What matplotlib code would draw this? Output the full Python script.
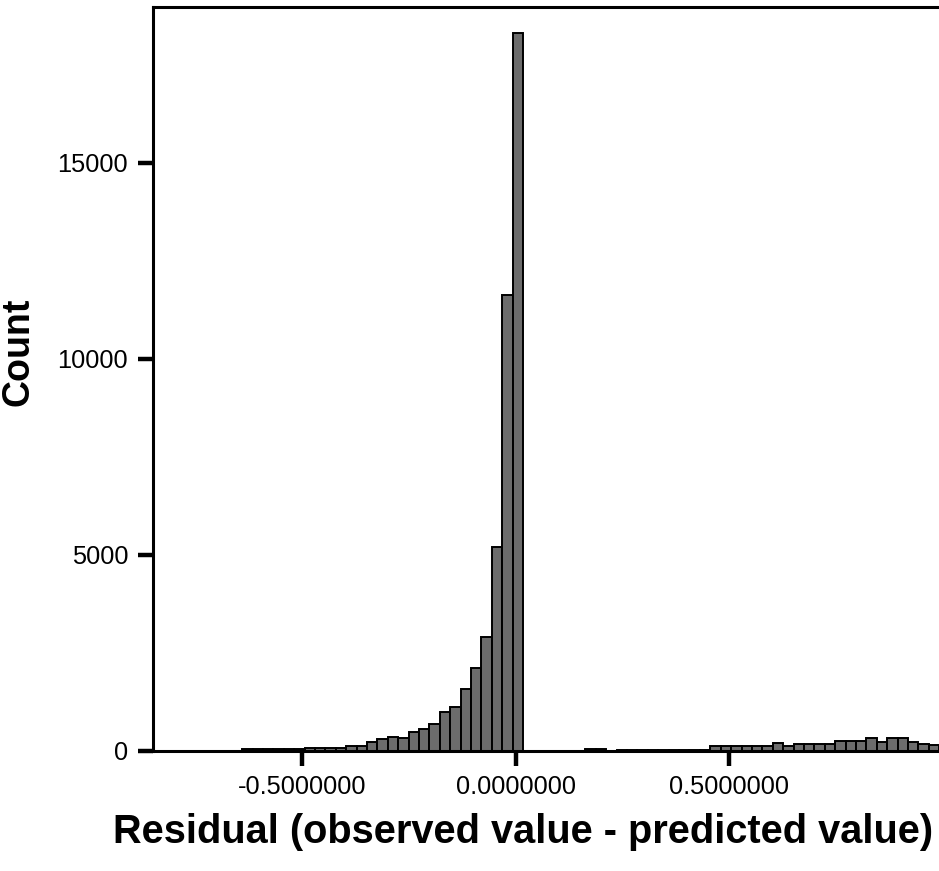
import numpy as np
import matplotlib
matplotlib.use("Agg")
import matplotlib.pyplot as plt

plt.rcParams['font.family'] = ['Liberation Sans', 'DejaVu Sans']

# histogram of residuals, equal-width bins starting at bin_start
bin_start = -0.6406
bin_width = 0.02436
counts = [
    40, 40, 40, 40, 40, 40,
    70, 70, 70, 75, 130, 130, 237, 306, 365, 340, 492, 550, 681,
    1002, 1114, 1573, 2110, 2915, 5210, 11630, 18300,
    0, 0, 0, 0, 0, 0, 45, 45, 10,
    35, 35, 35, 35, 35, 35, 35, 35, 35,
    130, 130, 130, 130, 130, 130, 210, 130,
    170, 170, 170, 170, 260, 260, 260, 330, 220,
    320, 320, 240, 180, 160,
]

yticks = [0, 5000, 10000, 15000]
ytick_labels = ["0", "5000", "10000", "15000"]
xticks = [-0.5, 0.0, 0.5]
xtick_labels = ["-0.5000000", "0.0000000", "0.5000000"]

lefts = bin_start + bin_width * np.arange(len(counts))

fig = plt.figure(figsize=(9.39, 8.71), dpi=100)
ax = fig.add_axes([0.163, 0.1378, 0.841, 0.854])

ax.bar(lefts, counts, width=bin_width, align='edge',
       color='#6c6c6c', edgecolor='black', linewidth=1.4)

ax.set_xlim(-0.8494, 1.0)
ax.set_ylim(0, 18970)

for side in ['left', 'bottom', 'top', 'right']:
    ax.spines[side].set_linewidth(2.2)

ax.set_yticks(yticks)
ax.set_yticklabels(ytick_labels)
ax.set_xticks(xticks)
ax.set_xticklabels(xtick_labels)
ax.tick_params(axis='both', direction='out', length=11, width=3.2,
               labelsize=18.3, colors='black')
ax.tick_params(axis='y', pad=7)
ax.tick_params(axis='x', pad=6)

ax.set_xlabel("Residual (observed value - predicted value)",
              fontsize=28.6, fontweight='bold')
ax.xaxis.set_label_coords(0.4685, -0.083)
ax.set_ylabel("Count", fontsize=27, fontweight='bold')
ax.yaxis.set_label_coords(-0.148, 0.536)

fig.savefig("out.png", dpi=100)
